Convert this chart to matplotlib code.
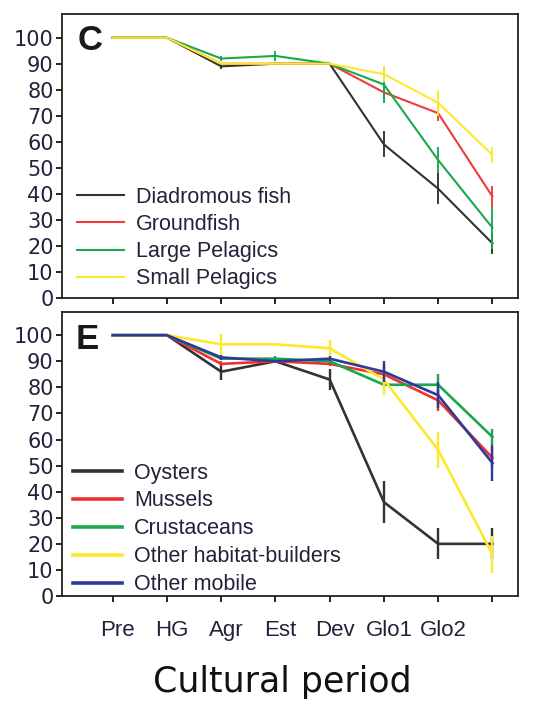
import matplotlib.pyplot as plt
import matplotlib.transforms as mtransforms
import numpy as np

periods = ['Pre', 'HG', 'Agr', 'Est', 'Dev', 'Glo1', 'Glo2', '']

# panel C
labels_c = ['Diadromous fish', 'Groundfish', 'Large Pelagics', 'Small Pelagics']
diadromous = [100, 100, 89, 90, 90, 59, 42, 21]
diadromous_err = [0, 0, 1, 0, 0, 5, 6, 4]
groundfish = [100, 100, 90, 90, 90, 79, 71, 39]
groundfish_err = [0, 0, 0, 0, 0, 3, 3, 4]
large_pel = [100, 100, 92, 93, 90, 82, 53, 27]
large_pel_err = [0, 0, 1, 2, 0, 7, 5, 8]
small_pel = [100, 100, 90, 90, 90, 86, 75, 55]
small_pel_err = [0, 0, 0, 0, 0, 3, 5, 3]

# panel E
labels_e = ['Oysters', 'Mussels', 'Crustaceans', 'Other habitat-builders', 'Other mobile']
oysters = [100, 100, 86, 90, 83, 36, 20, 20]
oysters_err = [0, 0, 3, 0, 4, 8, 6, 6]
mussels = [100, 100, 89, 90, 89, 85, 75, 53]
mussels_err = [0, 0, 1, 0, 1, 4, 4, 4]
crustaceans = [100, 100, 91, 91, 90, 81, 81, 61]
crustaceans_err = [0, 0, 0, 1, 0, 0, 4, 3]
habitat = [100, 100, 96.5, 96.5, 95, 83, 56, 16]
habitat_err = [0, 0, 4, 0, 3, 6, 7, 7]
mobile = [100, 100, 91.5, 90, 91, 86, 77, 51]
mobile_err = [0, 0, 1, 0, 1, 4, 5, 7]

colors_c = ['#333333', '#ee3b3b', '#19a84a', '#fde92c']
colors_e = ['#333333', '#ee3030', '#19a84a', '#fde92c', '#2d3a9a']

plt.rcParams['font.family'] = ['Liberation Sans', 'DejaVu Sans']
tick_color = '#22223a'

fig = plt.figure(figsize=(5.44, 7.04), dpi=100)
ax_c = fig.add_axes([0.114, 0.5767, 0.838, 0.403])
ax_e = fig.add_axes([0.114, 0.1534, 0.838, 0.4038])

x = np.arange(len(periods))


def draw_panel(ax, series, errs, labels, colors, lw):
    for y, e, lab, col in zip(series, errs, labels, colors):
        ax.errorbar(x, y, yerr=e, fmt='none', ecolor=col, elinewidth=lw * 0.9,
                    capsize=0)
        ax.plot(x, y, color=col, lw=lw, label=lab)
    ax.set_xlim(-0.935, 7.47)
    ax.set_ylim(0, 109)
    ax.set_yticks(np.arange(0, 101, 10))
    ax.set_xticks(x)
    ax.tick_params(axis='y', length=4, width=1.2, pad=2, labelsize=15,
                   labelcolor=tick_color)
    ax.tick_params(axis='x', length=4, width=1.2)
    for lbl in ax.get_yticklabels():
        lbl.set_fontfamily('DejaVu Sans')
    for s in ax.spines.values():
        s.set_linewidth(1.3)
        s.set_color('#222222')


draw_panel(ax_c,
           [diadromous, groundfish, large_pel, small_pel],
           [diadromous_err, groundfish_err, large_pel_err, small_pel_err],
           labels_c, colors_c, 1.5)
draw_panel(ax_e,
           [oysters, mussels, crustaceans, habitat, mobile],
           [oysters_err, mussels_err, crustaceans_err, habitat_err, mobile_err],
           labels_e, colors_e, 1.9)

ax_c.set_xticklabels([])
ax_e.set_xticklabels(periods, fontsize=16, color=tick_color)
ax_e.tick_params(axis='x', pad=13)
offset = mtransforms.ScaledTranslation(5 / 100, 0, fig.dpi_scale_trans)
for lbl in ax_e.get_xticklabels():
    lbl.set_transform(lbl.get_transform() + offset)

ax_c.text(0.061, 0.908, 'C', transform=ax_c.transAxes, fontsize=25,
          fontweight='bold', ha='center', va='center', color='#1a1a1a')
ax_e.text(0.055, 0.904, 'E', transform=ax_e.transAxes, fontsize=25,
          fontweight='bold', ha='center', va='center', color='#1a1a1a')

leg_c = ax_c.legend(loc='lower left', bbox_to_anchor=(0.033, 0.03),
                    frameon=False, fontsize=15.5, handlelength=2.2,
                    handletextpad=0.55, labelspacing=0.29, borderpad=0,
                    borderaxespad=0)
leg_e = ax_e.legend(loc='lower left', bbox_to_anchor=(0.024, 0.003),
                    frameon=False, fontsize=15.5, handlelength=2.3,
                    handletextpad=0.55, labelspacing=0.32, borderpad=0,
                    borderaxespad=0)
for leg in (leg_c, leg_e):
    for t in leg.get_texts():
        t.set_color(tick_color)
for h in leg_e.legend_handles:
    h.set_linewidth(2.6)

fig.text(0.519, 0.031, 'Cultural period', fontsize=25, ha='center',
         va='center', family='DejaVu Sans', color='#111111')

fig.savefig('out.png', dpi=100)
